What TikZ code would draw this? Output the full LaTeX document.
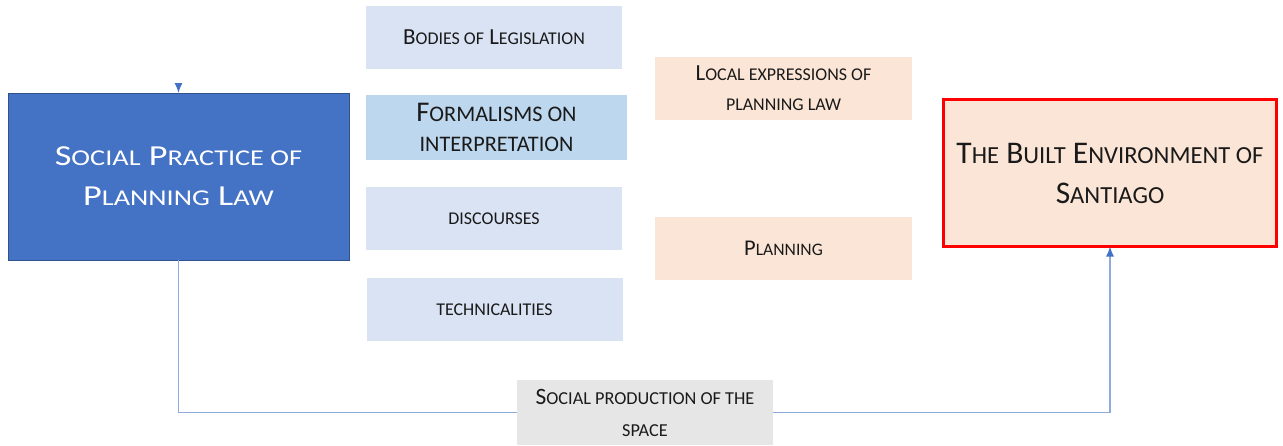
\documentclass[tikz,border=0pt]{standalone}
\usepackage{fontspec}
\setmainfont{Carlito}
\newfontfamily\lawfont[FakeStretch=1.25]{Carlito}
\usetikzlibrary{arrows.meta}
\definecolor{lawblue}{HTML}{4472C4}
\definecolor{lawedge}{HTML}{2F528F}
\definecolor{paleblue}{HTML}{DAE3F3}
\definecolor{midblue}{HTML}{BDD7EE}
\definecolor{peach}{HTML}{FBE5D6}
\definecolor{lightgray}{HTML}{E7E6E6}
\definecolor{linkblue}{HTML}{8FAADC}
\definecolor{ink}{HTML}{1A1A1A}
\makeatletter
\newcommand\sm[1]{{\fontsize{\fpeval{0.78*\f@size}}{\f@baselineskip}\selectfont #1}}
\makeatother

\begin{document}
\begin{tikzpicture}[x=1pt,y=-1pt]
\tikzstyle{box}=[rectangle,inner sep=0pt,outer sep=0pt,align=center,text=ink]
\tikzstyle{sidebox}=[box,fill=paleblue,minimum width=256pt,minimum height=63pt]
\tikzstyle{localbox}=[box,fill=peach,minimum width=257pt,minimum height=63pt]
\tikzstyle{conn}=[draw=linkblue,line width=1.3pt]
\tikzstyle{tip}=[-{Latex[length=10pt,width=8pt,color=lawblue]}]
\useasboundingbox (0,0) rectangle (1283,445);
% main blocks
\node [box,fill=lawblue,draw=lawedge,line width=1pt,text=white,minimum width=341pt,minimum height=167pt,
  font=\lawfont\fontsize{29}{40}\selectfont] (law) at (178.5,176.5) {S\sm{OCIAL} P\sm{RACTICE OF}\\P\sm{LANNING} L\sm{AW}};
\node [box,fill=peach,draw=red,line width=3pt,minimum width=333pt,minimum height=147pt,
  font=\fontsize{31.5}{40}\selectfont] (built) at (1110,173) {T\sm{HE} B\sm{UILT} E\sm{NVIRONMENT OF}\\S\sm{ANTIAGO}};
% middle column
\node [sidebox,font=\fontsize{23}{30}\selectfont] (bodies) at (494,37) {B\sm{ODIES OF} L\sm{EGISLATION}};
\node [sidebox,fill=midblue,minimum width=261pt,minimum height=65pt,font=\fontsize{28.5}{30}\selectfont] (formal) at (496.5,127.5) {F\sm{ORMALISMS ON}\\\sm{INTERPRETATION}};
\node [sidebox,font=\fontsize{23}{30}\selectfont] (disc) at (494,218.5) {\sm{DISCOURSES}};
\node [sidebox,font=\fontsize{23}{30}\selectfont] (tech) at (494.5,309.5) {\sm{TECHNICALITIES}};
\node [localbox,font=\fontsize{23}{30}\selectfont] (local) at (783.5,88) {L\sm{OCAL EXPRESSIONS OF}\\\sm{PLANNING LAW}};
\node [localbox,font=\fontsize{22.5}{30}\selectfont] (plan) at (783.5,248.5) {P\sm{LANNING}};
\node [box,fill=lightgray,minimum width=256pt,minimum height=65pt,font=\fontsize{23.4}{32}\selectfont] (prod) at (645,412.5) {S\sm{OCIAL PRODUCTION OF THE}\\\sm{SPACE}};
% links
\coordinate (lawin) at (178.5,84);
\draw [conn,tip] (lawin) -- (law.north);
\draw [conn] (law.south) |- (prod.west);
\draw [conn,tip] (prod.east) -| (built.south);
\end{tikzpicture}
\end{document}
